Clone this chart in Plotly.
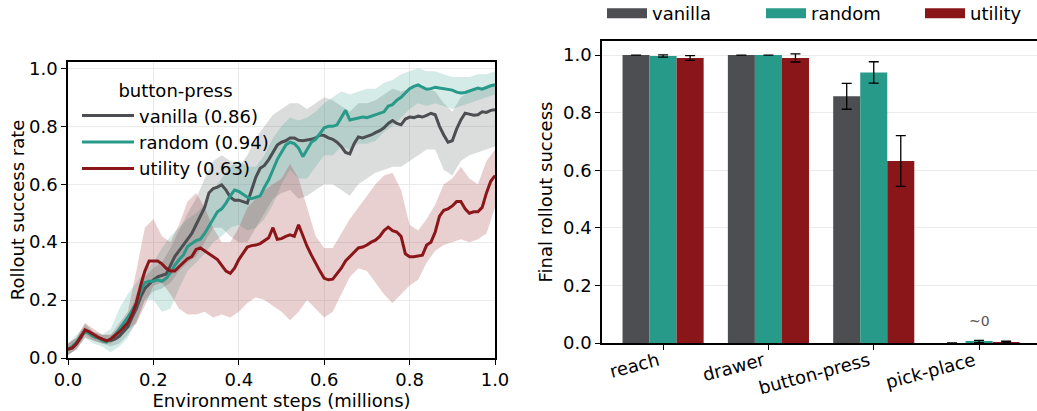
import plotly.graph_objects as go

# ---------------- data: left panel (button-press learning curves) ----------------
steps = [round(i * 0.01, 2) for i in range(101)]
vanilla_mean = [0.03, 0.035, 0.05, 0.07, 0.095, 0.085, 0.075, 0.07, 0.065, 0.06,
                0.06, 0.065, 0.075, 0.09, 0.107, 0.14, 0.17, 0.21, 0.24, 0.255,
                0.27, 0.28, 0.285, 0.29, 0.32, 0.35, 0.37, 0.39, 0.41, 0.43,
                0.46, 0.49, 0.52, 0.57, 0.585, 0.59, 0.598, 0.58, 0.555, 0.545,
                0.545, 0.54, 0.535, 0.58, 0.625, 0.655, 0.665, 0.685, 0.71, 0.735,
                0.745, 0.75, 0.76, 0.76, 0.752, 0.75, 0.753, 0.755, 0.76, 0.77,
                0.768, 0.76, 0.755, 0.745, 0.73, 0.71, 0.705, 0.74, 0.763, 0.76,
                0.765, 0.77, 0.778, 0.785, 0.795, 0.81, 0.82, 0.81, 0.805, 0.825,
                0.832, 0.83, 0.835, 0.832, 0.838, 0.845, 0.84, 0.80, 0.77, 0.745,
                0.75, 0.79, 0.822, 0.845, 0.842, 0.838, 0.84, 0.85, 0.848, 0.855,
                0.857]
random_mean = [0.03, 0.04, 0.055, 0.075, 0.09, 0.085, 0.075, 0.07, 0.06, 0.055,
               0.065, 0.08, 0.10, 0.12, 0.14, 0.165, 0.19, 0.23, 0.26, 0.265,
               0.265, 0.27, 0.265, 0.275, 0.295, 0.32, 0.34, 0.355, 0.385, 0.395,
               0.405, 0.41, 0.43, 0.455, 0.48, 0.505, 0.515, 0.535, 0.56, 0.58,
               0.575, 0.565, 0.555, 0.55, 0.556, 0.56, 0.59, 0.615, 0.65, 0.685,
               0.71, 0.735, 0.745, 0.74, 0.725, 0.695, 0.72, 0.745, 0.755, 0.775,
               0.795, 0.80, 0.80, 0.805, 0.83, 0.855, 0.822, 0.825, 0.83, 0.832,
               0.83, 0.835, 0.84, 0.843, 0.85, 0.87, 0.875, 0.89, 0.90, 0.915,
               0.93, 0.938, 0.943, 0.935, 0.928, 0.93, 0.935, 0.932, 0.93, 0.926,
               0.925, 0.918, 0.915, 0.917, 0.922, 0.928, 0.932, 0.928, 0.935, 0.94,
               0.943]
utility_mean = [0.031, 0.035, 0.05, 0.075, 0.097, 0.09, 0.08, 0.072, 0.065, 0.059,
                0.065, 0.076, 0.09, 0.105, 0.122, 0.15, 0.19, 0.25, 0.30, 0.335,
                0.335, 0.335, 0.325, 0.31, 0.30, 0.30, 0.315, 0.33, 0.343, 0.35,
                0.375, 0.38, 0.37, 0.36, 0.352, 0.34, 0.32, 0.30, 0.292, 0.31,
                0.34, 0.36, 0.383, 0.388, 0.39, 0.395, 0.405, 0.415, 0.45, 0.41,
                0.412, 0.42, 0.425, 0.42, 0.46, 0.42, 0.385, 0.355, 0.325, 0.30,
                0.275, 0.27, 0.272, 0.29, 0.31, 0.335, 0.35, 0.365, 0.38, 0.383,
                0.39, 0.40, 0.407, 0.42, 0.44, 0.452, 0.44, 0.435, 0.42, 0.36,
                0.35, 0.35, 0.352, 0.355, 0.39, 0.40, 0.435, 0.49, 0.51, 0.515,
                0.525, 0.54, 0.54, 0.515, 0.50, 0.505, 0.505, 0.52, 0.57, 0.61,
                0.63]

band_steps = [round(i * 0.02, 2) for i in range(51)]
vanilla_low = [0.01, 0.03, 0.08, 0.06, 0.05, 0.04, 0.05, 0.08, 0.12, 0.20,
               0.23, 0.24, 0.26, 0.30, 0.33, 0.35, 0.40, 0.45, 0.45, 0.42,
               0.40, 0.40, 0.45, 0.50, 0.55, 0.57, 0.58, 0.55, 0.56, 0.58,
               0.60, 0.60, 0.58, 0.56, 0.60, 0.62, 0.64, 0.65, 0.66, 0.66,
               0.68, 0.70, 0.72, 0.72, 0.65, 0.63, 0.68, 0.70, 0.71, 0.72, 0.73]
vanilla_high = [0.05, 0.07, 0.12, 0.09, 0.08, 0.08, 0.10, 0.14, 0.22, 0.28,
                0.31, 0.33, 0.38, 0.44, 0.50, 0.55, 0.62, 0.68, 0.70, 0.68,
                0.66, 0.70, 0.76, 0.80, 0.84, 0.86, 0.88, 0.88, 0.86, 0.88,
                0.90, 0.89, 0.87, 0.85, 0.88, 0.88, 0.89, 0.91, 0.93, 0.92,
                0.93, 0.94, 0.93, 0.92, 0.88, 0.85, 0.90, 0.92, 0.93, 0.94, 0.95]
random_low = [0.01, 0.03, 0.07, 0.05, 0.04, 0.02, 0.04, 0.07, 0.13, 0.20,
              0.20, 0.16, 0.17, 0.24, 0.30, 0.33, 0.36, 0.40, 0.42, 0.45,
              0.46, 0.44, 0.45, 0.48, 0.53, 0.60, 0.65, 0.62, 0.62, 0.66,
              0.70, 0.70, 0.73, 0.72, 0.74, 0.74, 0.75, 0.78, 0.80, 0.83,
              0.86, 0.88, 0.87, 0.88, 0.87, 0.86, 0.87, 0.88, 0.89, 0.90, 0.91]
random_high = [0.05, 0.08, 0.11, 0.09, 0.08, 0.10, 0.17, 0.22, 0.26, 0.30,
               0.33, 0.38, 0.42, 0.45, 0.48, 0.50, 0.53, 0.58, 0.62, 0.66,
               0.68, 0.66, 0.66, 0.70, 0.76, 0.80, 0.83, 0.82, 0.83, 0.85,
               0.88, 0.90, 0.92, 0.91, 0.92, 0.93, 0.93, 0.95, 0.96, 0.98,
               0.99, 1.00, 0.99, 0.99, 0.98, 0.97, 0.97, 0.97, 0.98, 0.98, 0.99]
utility_low = [0.01, 0.03, 0.07, 0.06, 0.05, 0.05, 0.07, 0.10, 0.12, 0.18,
               0.25, 0.26, 0.22, 0.17, 0.15, 0.15, 0.16, 0.14, 0.15, 0.14,
               0.16, 0.19, 0.21, 0.20, 0.18, 0.16, 0.13, 0.16, 0.20, 0.17,
               0.14, 0.16, 0.22, 0.28, 0.31, 0.30, 0.26, 0.22, 0.19, 0.22,
               0.25, 0.27, 0.33, 0.37, 0.39, 0.40, 0.41, 0.40, 0.41, 0.43, 0.52]
utility_high = [0.05, 0.07, 0.12, 0.10, 0.08, 0.08, 0.12, 0.16, 0.30, 0.45,
                0.48, 0.42, 0.40, 0.46, 0.54, 0.57, 0.52, 0.45, 0.40, 0.40,
                0.45, 0.52, 0.55, 0.58, 0.60, 0.62, 0.67, 0.62, 0.52, 0.42,
                0.38, 0.38, 0.43, 0.48, 0.52, 0.56, 0.60, 0.63, 0.64, 0.58,
                0.46, 0.44, 0.48, 0.53, 0.60, 0.62, 0.66, 0.62, 0.60, 0.68, 0.72]

# ---------------- data: right panel (final success bars) ----------------
tasks = ["reach", "drawer", "button-press", "pick-place"]
vanilla_final = [1.0, 1.0, 0.857, 0.0]
vanilla_err = [0.0, 0.0, 0.045, 0.0]
random_final = [0.997, 1.0, 0.94, 0.005]
random_err = [0.004, 0.0, 0.037, 0.004]
utility_final = [0.99, 0.99, 0.632, 0.003]
utility_err = [0.008, 0.014, 0.088, 0.003]

names = ["vanilla", "random", "utility"]
final_scores = ["0.86", "0.94", "0.63"]
colors = ["#4d4e52", "#279a89", "#8b1619"]
band_colors = ["rgba(77,78,82,0.2)", "rgba(39,154,137,0.2)", "rgba(139,22,25,0.2)"]

FONT = "DejaVu Sans"
fig = go.Figure()

means = [vanilla_mean, random_mean, utility_mean]
lows = [vanilla_low, random_low, utility_low]
highs = [vanilla_high, random_high, utility_high]

for lo, hi, bc in zip(lows, highs, band_colors):
    fig.add_trace(go.Scatter(
        x=band_steps + band_steps[::-1], y=hi + lo[::-1],
        fill="toself", fillcolor=bc, line=dict(width=0),
        mode="lines", hoverinfo="skip", showlegend=False,
        xaxis="x", yaxis="y"))

for i, (m, c) in enumerate(zip(means, colors)):
    fig.add_trace(go.Scatter(
        x=steps, y=m, mode="lines", line=dict(color=c, width=3),
        name=f"{names[i]} ({final_scores[i]})", legend="legend",
        xaxis="x", yaxis="y"))

bar_vals = [vanilla_final, random_final, utility_final]
bar_errs = [vanilla_err, random_err, utility_err]
for i in range(3):
    fig.add_trace(go.Bar(
        x=tasks, y=bar_vals[i], marker=dict(color=colors[i], line=dict(width=0)),
        error_y=dict(type="data", array=bar_errs[i], color="black", thickness=1.3, width=5),
        showlegend=False, xaxis="x2", yaxis="y2", name=names[i]))
    # legend swatch
    fig.add_trace(go.Scatter(
        x=[None], y=[None], mode="lines", line=dict(color=colors[i], width=13),
        name=names[i], legend="legend2", xaxis="x2", yaxis="y2"))

# body margin is removed via post_script, so figure fills the window
W, H = 1037, 411
def px_x(p):
    return p / W
def px_y(p):
    return (H - p) / H

axis_common = dict(
    automargin=False,
    showline=True, linecolor="black", linewidth=1.5,
    ticks="outside", ticklen=5, tickwidth=1.3, tickcolor="black",
    tickfont=dict(size=18, color="black", family=FONT),
    gridcolor="#ebebeb", gridwidth=1, zeroline=False,
)

fig.update_layout(
    template="none",
    width=W, height=H,
    margin=dict(l=0, r=0, t=0, b=0, autoexpand=False),
    paper_bgcolor="white", plot_bgcolor="white",
    font=dict(family=FONT, size=18, color="black"),
    barmode="group", bargap=0.23, bargroupgap=0.0,
    xaxis=dict(domain=[px_x(68), px_x(495)], range=[0, 1.0], mirror=True,
               tickvals=[0, 0.2, 0.4, 0.6, 0.8, 1.0],
               ticktext=["0.0", "0.2", "0.4", "0.6", "0.8", "1.0"],
               showgrid=True, anchor="y",
               title=dict(text="Environment steps (millions)", font=dict(size=18), standoff=1),
               **axis_common),
    yaxis=dict(domain=[px_y(358), px_y(62)], range=[0, 1.022], mirror=True,
               tickvals=[0, 0.2, 0.4, 0.6, 0.8, 1.0],
               ticktext=["0.0", "0.2", "0.4", "0.6", "0.8", "1.0"],
               showgrid=True, anchor="x",
               title=dict(text="Rollout success rate", font=dict(size=18), standoff=0),
               **axis_common),
    xaxis2=dict(domain=[px_x(602), 1.0], range=[-0.58, 3.55], mirror=True,
                type="category", categoryorder="array", categoryarray=tasks,
                showgrid=False, tickangle=-15, anchor="y2",
                ticklabelshift=-5, ticklabelstandoff=-6,
                **axis_common),
    yaxis2=dict(domain=[px_y(343), px_y(41)], range=[0, 1.049],
                tickvals=[0, 0.2, 0.4, 0.6, 0.8, 1.0],
                ticktext=["0.0", "0.2", "0.4", "0.6", "0.8", "1.0"],
                showgrid=True, anchor="x2",
                title=dict(text="Final rollout success", font=dict(size=18), standoff=6),
                **axis_common),
    legend=dict(x=px_x(77), y=px_y(74), xanchor="left", yanchor="top",
                bgcolor="rgba(255,255,255,0)", borderwidth=0,
                font=dict(size=18, family=FONT),
                title=dict(text="button-press", side="top center", font=dict(size=18)),
                tracegroupgap=0, itemwidth=52),
    legend2=dict(x=px_x(602), y=px_y(-5), xanchor="left", yanchor="top",
                 orientation="h", bgcolor="rgba(255,255,255,0)", borderwidth=0,
                 font=dict(size=18, family=FONT), itemwidth=40,
                 entrywidth=104, entrywidthmode="pixels"),
    annotations=[dict(x="pick-place", y=0.075, xref="x2", yref="y2", text="~0",
                      showarrow=False, font=dict(size=14, color="#555555", family=FONT))],
)

fig.write_html("out.html", config={"displayModeBar": False},
               post_script="document.body.style.margin='0';document.body.style.overflow='hidden';")
